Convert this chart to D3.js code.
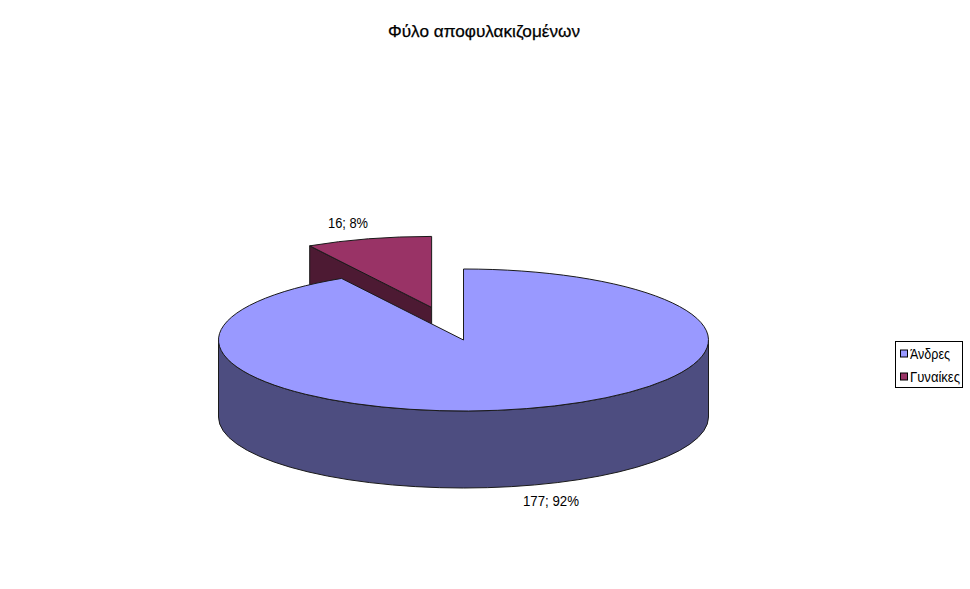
<!DOCTYPE html>
<html>
<head>
<meta charset="utf-8">
<script src="https://d3js.org/d3.v7.min.js"></script>
<style>
  html, body { margin: 0; padding: 0; background: #fff; }
  text { font-family: "Liberation Sans", Arial, sans-serif; fill: #000; }
</style>
</head>
<body>
<svg id="chart" width="970" height="589"></svg>
<script>
const categories = ['Άνδρες', 'Γυναίκες'];
const counts = [177, 16];
const dataLabels = ['177; 92%', '16; 8%'];
const chartTitle = 'Φύλο αποφυλακιζομένων';

const topColors = ['#9999ff', '#993366'];
const sideColors = ['#4d4d80', '#4d1a33'];
const outline = '#1a1a1a';

const width = 970, height = 589;
const cx = 463.5, cy = 340;   // centre of the top face
const rx = 245, ry = 71;      // ellipse radii
const depth = 77;
const explodeX = [0, 0.505];  // fraction of the radius each slice is pulled out
const explodeY = [0, 0.475];

const svg = d3.select('#chart');

svg.append('text')
    .attr('x', 484).attr('y', 37)
    .attr('text-anchor', 'middle')
    .attr('font-size', 16.5)
    .attr('textLength', 192)
    .attr('lengthAdjust', 'spacingAndGlyphs')
    .attr('stroke', '#000').attr('stroke-width', 0.25)
    .text(chartTitle);

// clockwise from 12 o'clock, same as the d3 pie convention
const arcs = d3.pie().sort(null)(counts);

const slices = arcs.map(function(a, i) {
  const mid = (a.startAngle + a.endAngle) / 2;
  return {
    i: i,
    start: a.startAngle,
    end: a.endAngle,
    ox: cx + Math.sin(mid) * rx * explodeX[i],
    oy: cy - Math.cos(mid) * ry * explodeY[i]
  };
});

function px(s, angle) {
  return s.ox + Math.sin(angle) * rx;
}
function py(s, angle) {
  return s.oy - Math.cos(angle) * ry;
}

function topPath(s) {
  const large = s.end - s.start > Math.PI ? 1 : 0;
  return 'M' + s.ox + ',' + s.oy +
      'L' + px(s, s.start) + ',' + py(s, s.start) +
      'A' + rx + ',' + ry + ' 0 ' + large + ' 1 ' + px(s, s.end) + ',' + py(s, s.end) + 'Z';
}

// outer wall, only the front half of the ellipse can be seen
function wallPath(s) {
  const from = Math.max(s.start, Math.PI / 2);
  const to = Math.min(s.end, Math.PI * 1.5);
  if (from >= to) {
    return null;
  }
  return 'M' + px(s, from) + ',' + py(s, from) +
      'A' + rx + ',' + ry + ' 0 0 1 ' + px(s, to) + ',' + py(s, to) +
      'L' + px(s, to) + ',' + (py(s, to) + depth) +
      'A' + rx + ',' + ry + ' 0 0 0 ' + px(s, from) + ',' + (py(s, from) + depth) + 'Z';
}

// cut face on the left edge of the slice, this is the one facing the viewer
function cutPath(s) {
  const x = px(s, s.start), y = py(s, s.start);
  return 'M' + s.ox + ',' + s.oy + 'L' + x + ',' + y +
      'L' + x + ',' + (y + depth) + 'L' + s.ox + ',' + (s.oy + depth) + 'Z';
}

// the exploded back slice first so the big one covers its foot
[slices[1], slices[0]].forEach(function(s) {
  const g = svg.append('g').attr('class', 'slice');
  if (s.i === 1) {
    g.append('path')
        .attr('d', cutPath(s))
        .attr('fill', sideColors[s.i])
        .attr('stroke', outline);
  }
  const wall = wallPath(s);
  if (wall) {
    g.append('path')
        .attr('d', wall)
        .attr('fill', sideColors[s.i])
        .attr('stroke', outline);
  }
  g.append('path')
      .attr('d', topPath(s))
      .attr('fill', topColors[s.i])
      .attr('stroke', outline);
});

const labelPos = [[551, 506], [348, 228]];
dataLabels.forEach(function(label, i) {
  svg.append('text')
      .attr('x', labelPos[i][0]).attr('y', labelPos[i][1])
      .attr('text-anchor', 'middle')
      .attr('font-size', 14)
      .attr('textLength', i === 0 ? 56 : 40)
      .attr('lengthAdjust', 'spacingAndGlyphs')
      .text(label);
});

const legend = svg.append('g').attr('transform', 'translate(895,341)');
legend.append('rect')
    .attr('x', 0.5).attr('y', 0.5)
    .attr('width', 67).attr('height', 46)
    .attr('fill', '#fff').attr('stroke', '#000');

const legendY = d3.scalePoint().domain(categories).range([12.5, 35.5]);
categories.forEach(function(name, i) {
  legend.append('rect')
      .attr('x', 5.5).attr('y', legendY(name) - 3.5)
      .attr('width', 7).attr('height', 7)
      .attr('fill', topColors[i]).attr('stroke', '#000');
  legend.append('text')
      .attr('x', 15).attr('y', legendY(name) + 5)
      .attr('font-size', 14)
      .attr('textLength', i === 0 ? 40 : 50)
      .attr('lengthAdjust', 'spacingAndGlyphs')
      .text(name);
});
</script>
</body>
</html>
